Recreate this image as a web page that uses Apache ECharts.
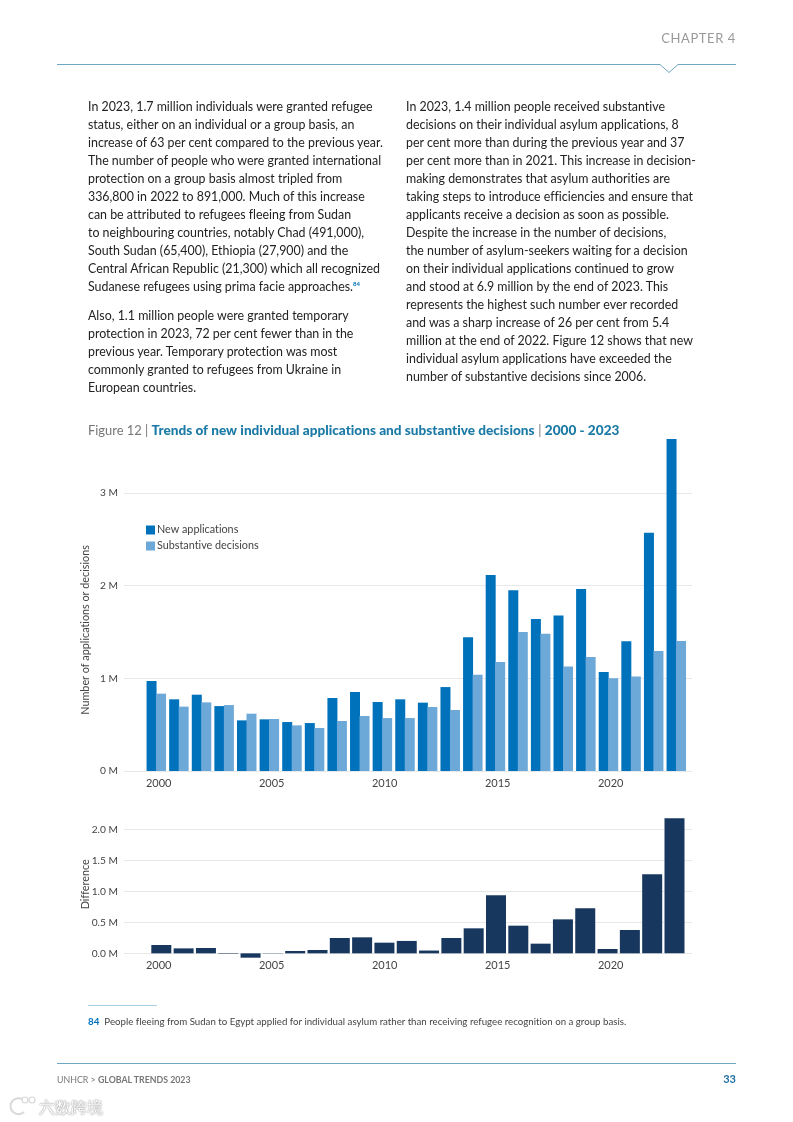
<!DOCTYPE html>
<html>
<head>
<meta charset="utf-8">
<title>Figure 12</title>
<script src="https://cdn.jsdelivr.net/npm/echarts@6/dist/echarts.min.js"></script>
<style>
  html, body { margin: 0; padding: 0; background: #fff; }
  #page { position: relative; width: 793px; height: 1122px; overflow: hidden; font-family: Lato, sans-serif; font-variant-ligatures: none; }
  #chart { position: absolute; left: 0; top: 0; width: 793px; height: 1122px; }
  .line { position: absolute; white-space: nowrap; font-size: 12.4px; line-height: 18px; color: #222; }
  .abs { position: absolute; white-space: nowrap; }
</style>
</head>
<body>
<div id="page">
  <div id="chart"></div>
  <svg class="abs" style="left:0;top:0" width="793" height="1122">
    <polyline points="57,64.5 660,64.5 669,72.5 678,64.5 736,64.5" fill="none" stroke="#6fa6c4" stroke-width="1"/>
    <line x1="88" y1="1005.5" x2="157" y2="1005.5" stroke="#a9cfe2" stroke-width="1"/>
    <line x1="57" y1="1063.5" x2="736" y2="1063.5" stroke="#6fa6c4" stroke-width="1"/>
    <!-- 水印图标 -->
    <path d="M22,1099 A8,8 0 1,0 24,1112" fill="#fff" stroke="#d8d8d8" stroke-width="2"/>
    <circle cx="25" cy="1100" r="3" fill="#fff" stroke="#d8d8d8" stroke-width="1.2"/>
    <circle cx="32" cy="1100" r="3" fill="#fff" stroke="#d8d8d8" stroke-width="1.2"/>
  </svg>
  <div class="abs" style="right:57px;top:30px;font-size:13px;letter-spacing:0.6px;color:#999">CHAPTER 4</div>
  <div id="body"></div>
  <div class="abs" style="left:88px;top:1015px;font-size:9.7px;color:#444"><b style="color:#0072bc;font-size:9.8px">84</b>&nbsp; People fleeing from Sudan to Egypt applied for individual asylum rather than receiving refugee recognition on a group basis.</div>
  <div class="abs" style="left:57px;top:1074px;font-size:8.8px;color:#777">UNHCR &gt; <b>GLOBAL TRENDS 2023</b></div>
  <div class="abs" style="right:57px;top:1072px;font-size:11px;font-weight:700;color:#1f6f9f">33</div>
  <div class="abs" style="left:39px;top:1097px;font-size:16px;color:#fff;text-shadow:0 0 1.5px #999,0 0 1.5px #999">六数跨境</div>
</div>
<script>
// 正文（按原图断行）
const leftLines = [
  'In 2023, 1.7 million individuals were granted refugee',
  'status, either on an individual or a group basis, an',
  'increase of 63 per cent compared to the previous year.',
  'The number of people who were granted international',
  'protection on a group basis almost tripled from',
  '336,800 in 2022 to 891,000. Much of this increase',
  'can be attributed to refugees fleeing from Sudan',
  'to neighbouring countries, notably Chad (491,000),',
  'South Sudan (65,400), Ethiopia (27,900) and the',
  'Central African Republic (21,300) which all recognized',
  'Sudanese refugees using prima facie approaches.<sup style="font-size:6px;font-weight:700;color:#0072bc;line-height:0">84</sup>'
];
const leftLines2 = [
  'Also, 1.1 million people were granted temporary',
  'protection in 2023, 72 per cent fewer than in the',
  'previous year. Temporary protection was most',
  'commonly granted to refugees from Ukraine in',
  'European countries.'
];
const rightLines = [
  'In 2023, 1.4 million people received substantive',
  'decisions on their individual asylum applications, 8',
  'per cent more than during the previous year and 37',
  'per cent more than in 2021. This increase in decision-',
  'making demonstrates that asylum authorities are',
  'taking steps to introduce efficiencies and ensure that',
  'applicants receive a decision as soon as possible.',
  'Despite the increase in the number of decisions,',
  'the number of asylum-seekers waiting for a decision',
  'on their individual applications continued to grow',
  'and stood at 6.9 million by the end of 2023. This',
  'represents the highest such number ever recorded',
  'and was a sharp increase of 26 per cent from 5.4',
  'million at the end of 2022. Figure 12 shows that new',
  'individual asylum applications have exceeded the',
  'number of substantive decisions since 2006.'
];

// 图表数据（单位：百万）
const years = ['2000', '2001', '2002', '2003', '2004', '2005', '2006', '2007', '2008', '2009', '2010', '2011',
  '2012', '2013', '2014', '2015', '2016', '2017', '2018', '2019', '2020', '2021', '2022', '2023'];
const newApplications = [0.97, 0.773, 0.823, 0.70, 0.546, 0.557, 0.528, 0.517, 0.787, 0.852, 0.744, 0.773,
  0.737, 0.905, 1.441, 2.113, 1.948, 1.638, 1.678, 1.962, 1.067, 1.398, 2.569, 3.58];
const substantiveDecisions = [0.834, 0.694, 0.74, 0.711, 0.618, 0.561, 0.492, 0.464, 0.539, 0.593, 0.571, 0.571,
  0.69, 0.658, 1.038, 1.175, 1.498, 1.48, 1.128, 1.229, 0.999, 1.02, 1.294, 1.401];
const difference = [0.134, 0.08, 0.086, -0.008, -0.07, -0.004, 0.038, 0.054, 0.247, 0.258, 0.172, 0.2,
  0.045, 0.247, 0.403, 0.935, 0.446, 0.156, 0.548, 0.726, 0.07, 0.376, 1.274, 2.177];

// 正文渲染
function addLines(lines, x, y, step) {
  const box = document.getElementById('body');
  lines.forEach(function (text, i) {
    const el = document.createElement('div');
    el.className = 'line';
    el.style.left = x + 'px';
    el.style.top = (y + i * step - 9) + 'px';
    el.innerHTML = text;
    box.appendChild(el);
  });
}
addLines(leftLines, 88, 107, 18);
addLines(leftLines2, 88, 315.5, 18.1);
addLines(rightLines, 406, 107, 18);

const font = 'Lato';
const tickColor = '#444';
const gridColor = '#e8e8e8';

// 网格：网格线和柱子的范围不同，分开放
function gridBox(left, right, top, bottom) {
  return { left: left, width: right - left, top: top, height: bottom - top, containLabel: false };
}
const grids = [
  gridBox(124, 692, 492.8, 771),    // 0 上图网格线
  gridBox(145, 687.6, 439, 771),    // 1 上图柱子
  gridBox(147.4, 689.8, 492.8, 771), // 2 上图年份标签
  gridBox(124, 692, 829.3, 953.3),  // 3 下图网格线
  gridBox(150.15, 685.65, 818.1, 958.3), // 4 下图柱子
  gridBox(147.4, 689.8, 829.3, 953.3)   // 5 下图年份标签
];

function hiddenX(i) {
  return { type: 'category', gridIndex: i, data: years, show: false };
}
function labelX(i) {
  return {
    type: 'category', gridIndex: i, data: years,
    axisLine: { show: false }, axisTick: { show: false },
    axisLabel: { interval: 4, margin: 7, fontFamily: font, fontSize: 11, color: tickColor, hideOverlap: false }
  };
}
function hiddenY(i, min, max) {
  return { type: 'value', gridIndex: i, min: min, max: max, show: false, splitLine: { show: false } };
}
function gridY(i, max, interval, name, fmt, nameOffset) {
  return {
    type: 'value', gridIndex: i, min: 0, max: max, interval: interval,
    name: name, nameLocation: 'middle', nameGap: 33, nameMoveOverlap: false,
    nameTextStyle: { fontFamily: font, fontSize: 10.8, color: tickColor, padding: nameOffset },
    axisLine: { show: false }, axisTick: { show: false },
    axisLabel: { margin: 6, fontFamily: font, fontSize: 10.2, color: tickColor, formatter: fmt },
    splitLine: { show: true, lineStyle: { color: gridColor, width: 1 } }
  };
}

const option = {
  animation: false,
  title: {
    left: 88, top: 424, padding: 0,
    text: '{a|Figure 12 | }{b|Trends of new individual applications and substantive decisions}{a| | }{b|2000 - 2023}',
    textStyle: {
      fontWeight: 'normal',
      rich: {
        a: { fontFamily: font, fontSize: 12.9, fontWeight: 'normal', color: '#777' },
        b: { fontFamily: font, fontSize: 13.6, fontWeight: 900, color: '#1b7aa6' }
      }
    }
  },
  legend: {
    orient: 'vertical', left: 146, top: 524.5, padding: 0,
    itemWidth: 9, itemHeight: 9, itemGap: 5, icon: 'rect',
    selectedMode: false,
    data: ['New applications', 'Substantive decisions'],
    textStyle: { fontFamily: font, fontSize: 10.8, color: tickColor, padding: [0, 0, 0, -3] }
  },
  grid: grids,
  xAxis: [hiddenX(0), hiddenX(1), labelX(2), hiddenX(3), hiddenX(4), labelX(5)],
  yAxis: [
    gridY(0, 3, 1, 'Number of applications or decisions', function (v) { return v + ' M'; }, [0, 0, 0, 4]),
    hiddenY(1, 0, 3.58),
    hiddenY(2, 0, 3),
    gridY(3, 2, 0.5, 'Difference', function (v) { return v.toFixed(1) + ' M'; }, [0, 0, 0, 14]),
    hiddenY(4, -0.08, 2.18),
    hiddenY(5, 0, 2)
  ],
  series: [
    { name: 'New applications', type: 'bar', xAxisIndex: 1, yAxisIndex: 1, data: newApplications,
      barWidth: 10, barGap: '-5%', itemStyle: { color: '#0072bc' } },
    { name: 'Substantive decisions', type: 'bar', xAxisIndex: 1, yAxisIndex: 1, data: substantiveDecisions,
      barWidth: 10, barGap: '-5%', itemStyle: { color: '#6ca8d8' } },
    { name: 'Difference', type: 'bar', xAxisIndex: 4, yAxisIndex: 4, data: difference,
      barWidth: 20, itemStyle: { color: '#18375f' } }
  ]
};

const chart = echarts.init(document.getElementById('chart'), null, { renderer: 'canvas' });
chart.setOption(option);
</script>
</body>
</html>
